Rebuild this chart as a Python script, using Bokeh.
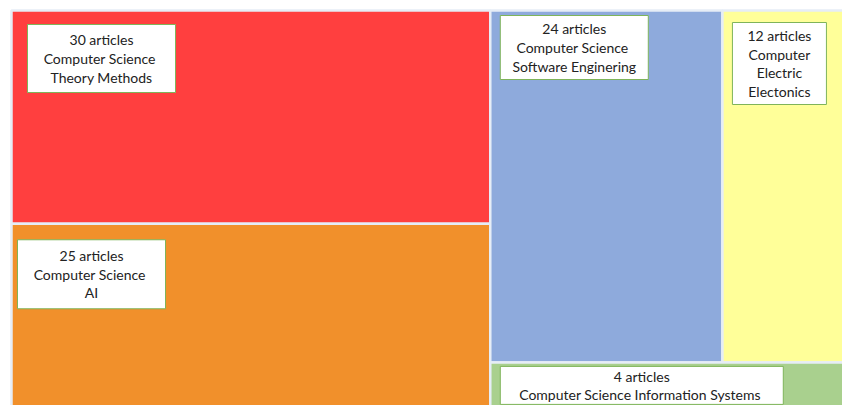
from bokeh.plotting import figure
from bokeh.models import Range1d, ColumnDataSource
from bokeh.core.properties import value
from bokeh.embed import file_html
from bokeh.resources import INLINE

# ---- data ----
fields = ["Computer  Science\nTheory Methods",
          "Computer  Science\nAI",
          "Computer  Science\nSoftware Enginering",
          "Computer\nElectric\nElectonics",
          "Computer  Science Information Systems"]
articles = [30, 25, 24, 12, 4]
colors = ["#ff3f3f", "#f1902b", "#8eaadc", "#ffff99", "#a9d08e"]

# ---- treemap layout from values ----
X0, X1, Y0, Y1 = 11, 838, 10, 401
total = sum(articles)
left = articles[0] + articles[1]
xs = X0 + (X1 - X0) * left / total
ys = Y0 + (Y1 - Y0) * articles[0] / left
top_row = articles[2] + articles[3]
yr = Y0 + (Y1 - Y0) * top_row / (top_row + articles[4])
xb = xs + (X1 - xs) * articles[2] / top_row
rects = [(X0, xs, Y0, ys), (X0, xs, ys, Y1 + 20),
         (xs, xb, Y0, yr), (xb, X1 + 20, Y0, yr), (xs, X1 + 20, yr, Y1 + 20)]

src = ColumnDataSource(dict(
    left=[r[0] for r in rects], right=[r[1] for r in rects],
    top=[r[2] for r in rects], bottom=[r[3] for r in rects],
    color=colors))

# label boxes: offset from rect corner and box size (px)
offsets = [(16, 14), (6, 16), (10, 5), (10, 12), (10, 4)]
sizes = [(148, 68), (148, 69), (148, 64), (94, 82), (283, 38)]
bl, br, bt, bb, tx, ty, txt = [], [], [], [], [], [], []
for r, (ox, oy), (w, h), n, f in zip(rects, offsets, sizes, articles, fields):
    l = r[0] + ox
    t = r[2] + oy
    bl.append(l); br.append(l + w); bt.append(t); bb.append(t + h)
    tx.append(l + w / 2); ty.append(t + h / 2)
    txt.append(f"{n} articles\n{f}")
box_src = ColumnDataSource(dict(left=bl, right=br, top=bt, bottom=bb))
txt_src = ColumnDataSource(dict(x=tx, y=ty, text=txt))

p = figure(width=842, height=405, output_backend="svg", toolbar_location=None,
           x_range=Range1d(0, 842), y_range=Range1d(405, 0), min_border=0)
p.axis.visible = False
p.grid.visible = False
p.outline_line_color = None
p.background_fill_color = "white"

p.quad(left="left", right="right", top="top", bottom="bottom", source=src,
       fill_color="color", line_color="#e6edf6", line_width=2.5)
p.quad(left="left", right="right", top="top", bottom="bottom", source=box_src,
       fill_color="white", line_color="#7fb45a", line_width=1)
p.text(x="x", y="y", text="text", source=txt_src, text_align="center",
       text_baseline="middle", text_font=value("Lato"), text_font_size="14px",
       text_color="#222222", text_line_height=1.1)

open("out.html", "w").write(file_html(p, INLINE))
